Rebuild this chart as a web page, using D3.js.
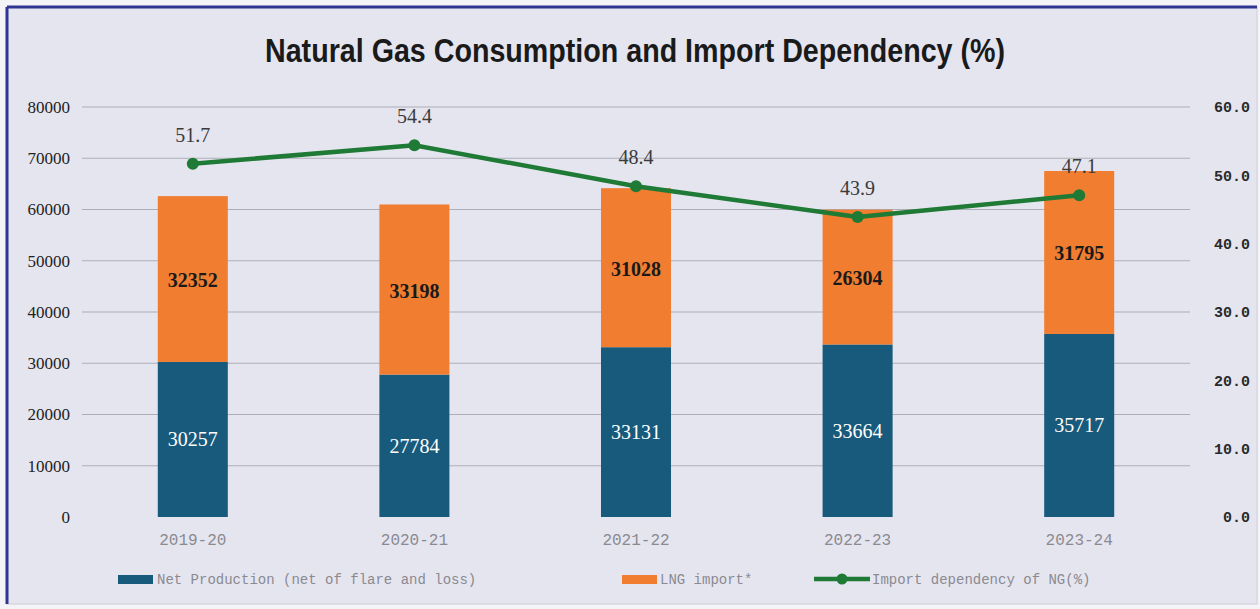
<!DOCTYPE html>
<html>
<head>
<meta charset="utf-8">
<script src="https://cdn.jsdelivr.net/npm/d3@7"></script>
<style>
  html, body { margin: 0; padding: 0; background: #f4f4f8; }
  svg { display: block; }
  .left-axis text { font-family: "Liberation Serif", "Times New Roman", serif; font-size: 17px; }
</style>
</head>
<body>
<svg id="chart" width="1260" height="609"></svg>
<script>
// data
const years = ["2019-20", "2020-21", "2021-22", "2022-23", "2023-24"];
const netProduction = [30257, 27784, 33131, 33664, 35717];
const lngImport = [32352, 33198, 31028, 26304, 31795];
const importDependency = [51.7, 54.4, 48.4, 43.9, 47.1];
const leftTicks = [0, 10000, 20000, 30000, 40000, 50000, 60000, 70000, 80000];
const rightTicks = [0, 10, 20, 30, 40, 50, 60];

const W = 1260, H = 609;
const margin = { top: 107, right: 70, bottom: 92, left: 82 };
const blue = "#175a7c", orange = "#f07d30", green = "#1e7a34";

const svg = d3.select("#chart");

// panel
svg.append("rect").attr("x", 7).attr("y", 7).attr("width", 1250).attr("height", 597)
    .attr("fill", "#e5e5f0").attr("stroke", "#d6d6e0").attr("stroke-width", 1.5);
svg.append("line").attr("x1", 7).attr("x2", 1257).attr("y1", 7).attr("y2", 7)
    .attr("stroke", "#2f3590").attr("stroke-width", 3);
svg.append("line").attr("x1", 7).attr("x2", 7).attr("y1", 7).attr("y2", 604)
    .attr("stroke", "#2f3590").attr("stroke-width", 3);

svg.append("text")
    .attr("x", 635).attr("y", 62)
    .attr("text-anchor", "middle")
    .style("font-family", "'Liberation Sans Narrow', 'Liberation Sans', sans-serif")
    .attr("font-weight", "bold")
    .attr("font-size", 33)
    .attr("fill", "#1a1a1a")
    .attr("textLength", 740)
    .attr("lengthAdjust", "spacingAndGlyphs")
    .text("Natural Gas Consumption and Import Dependency (%)");

const x = d3.scaleBand().domain(years)
    .range([margin.left, 1190]).paddingInner(0.684).paddingOuter(0.342);
const y = d3.scaleLinear().domain([0, 80000]).range([517, 107]);
const y2 = d3.scaleLinear().domain([0, 60]).range([517, 107]);

// gridlines
svg.append("g").selectAll("line").data(leftTicks.slice(1)).join("line")
    .attr("x1", margin.left).attr("x2", 1190)
    .attr("y1", d => y(d)).attr("y2", d => y(d))
    .attr("stroke", "#aeaeb8").attr("stroke-width", 1.2);

// left axis
const yAxis = svg.append("g").attr("class", "left-axis").attr("transform", `translate(${margin.left},0)`)
    .call(d3.axisLeft(y).tickValues(leftTicks).tickSize(0).tickPadding(12).tickFormat(d3.format("d")));
yAxis.select(".domain").remove();
yAxis.attr("font-family", null).attr("font-size", null);
yAxis.selectAll("text").attr("fill", "#222");

// right axis
const y2Axis = svg.append("g").attr("transform", "translate(1250,0)")
    .call(d3.axisLeft(y2).tickValues(rightTicks).tickSize(0).tickPadding(0).tickFormat(d3.format(".1f")));
y2Axis.select(".domain").remove();
y2Axis.selectAll("text")
    .style("font-family", "'Liberation Mono', monospace").attr("font-weight", "bold")
    .style("font-size", "15px").attr("fill", "#2a2a2a");

// bars
const rows = years.map((yr, i) => ({ yr, prod: netProduction[i], lng: lngImport[i], dep: importDependency[i] }));
const bars = svg.append("g");
bars.selectAll("rect.prod").data(rows).join("rect").attr("class", "prod")
    .attr("x", d => x(d.yr)).attr("width", x.bandwidth())
    .attr("y", d => y(d.prod)).attr("height", d => y(0) - y(d.prod))
    .attr("fill", blue);
bars.selectAll("rect.lng").data(rows).join("rect").attr("class", "lng")
    .attr("x", d => x(d.yr)).attr("width", x.bandwidth())
    .attr("y", d => y(d.prod + d.lng)).attr("height", d => y(d.prod) - y(d.prod + d.lng))
    .attr("fill", orange);

bars.selectAll("text.prod").data(rows).join("text").attr("class", "prod")
    .attr("x", d => x(d.yr) + x.bandwidth() / 2)
    .attr("y", d => (y(0) + y(d.prod)) / 2 + 7)
    .attr("text-anchor", "middle")
    .attr("font-family", "'Liberation Serif', serif").attr("font-size", 20)
    .attr("fill", "#ffffff")
    .text(d => d.prod);
bars.selectAll("text.lng").data(rows).join("text").attr("class", "lng")
    .attr("x", d => x(d.yr) + x.bandwidth() / 2)
    .attr("y", d => (y(d.prod) + y(d.prod + d.lng)) / 2 + 8)
    .attr("text-anchor", "middle")
    .attr("font-family", "'Liberation Serif', serif").attr("font-weight", "bold").attr("font-size", 20)
    .attr("fill", "#1a1a1a")
    .text(d => d.lng);

// x labels
svg.append("g").selectAll("text").data(years).join("text")
    .attr("x", d => x(d) + x.bandwidth() / 2).attr("y", 545)
    .attr("text-anchor", "middle")
    .attr("font-family", "'Liberation Mono', monospace").attr("font-size", 16)
    .attr("fill", "#8a8a90")
    .text(d => d);

// line
const cx = d => x(d.yr) + x.bandwidth() / 2;
svg.append("path").datum(rows)
    .attr("fill", "none").attr("stroke", green).attr("stroke-width", 4.5)
    .attr("d", d3.line().x(cx).y(d => y2(d.dep)));
svg.append("g").selectAll("circle").data(rows).join("circle")
    .attr("cx", cx).attr("cy", d => y2(d.dep)).attr("r", 6).attr("fill", green);
svg.append("g").selectAll("text").data(rows).join("text")
    .attr("x", cx).attr("y", d => y2(d.dep) - 22)
    .attr("text-anchor", "middle")
    .attr("font-family", "'Liberation Serif', serif").attr("font-size", 20)
    .attr("fill", "#3a3a3a")
    .text(d => d.dep.toFixed(1));

// legend
const legend = svg.append("g").attr("font-family", "'Liberation Mono', monospace")
    .attr("font-size", 14).attr("fill", "#8a8a90");
legend.append("rect").attr("x", 118).attr("y", 575).attr("width", 35).attr("height", 9).attr("fill", blue);
legend.append("text").attr("x", 157).attr("y", 584).text("Net Production (net of flare and loss)");
legend.append("rect").attr("x", 622).attr("y", 575).attr("width", 35).attr("height", 9).attr("fill", orange);
legend.append("text").attr("x", 660).attr("y", 584).text("LNG import*");
legend.append("line").attr("x1", 814).attr("x2", 870).attr("y1", 579).attr("y2", 579)
    .attr("stroke", green).attr("stroke-width", 4.5);
legend.append("circle").attr("cx", 842).attr("cy", 579).attr("r", 5.5).attr("fill", green);
legend.append("text").attr("x", 872).attr("y", 584).text("Import dependency of NG(%)");
</script>
</body>
</html>
